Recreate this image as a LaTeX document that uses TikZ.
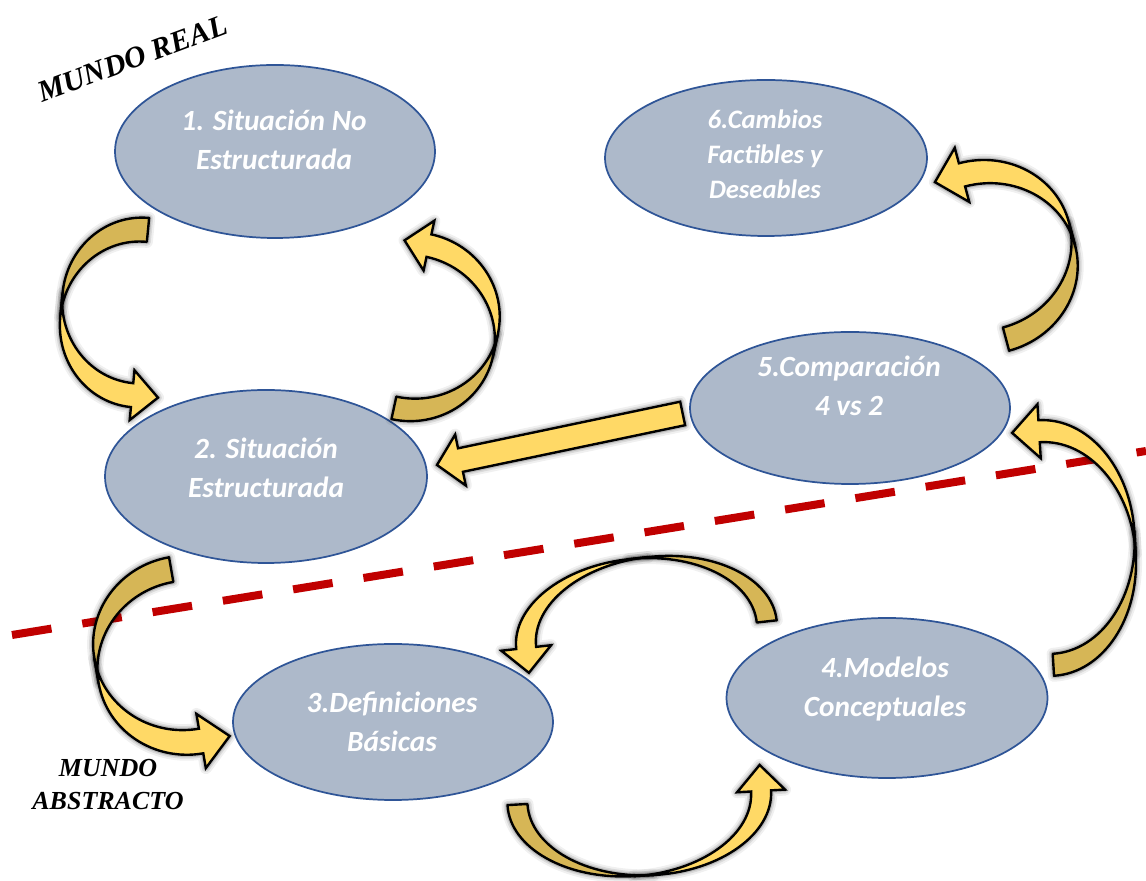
\documentclass[tikz,border=0pt]{standalone}
\usepackage{fontspec}
\usetikzlibrary{shapes.geometric}
\newfontfamily\labelfont{Carlito}
\newfontfamily\worldfont{Liberation Serif}
\definecolor{stagefill}{HTML}{ADB9CA}
\definecolor{stageline}{HTML}{2F5597}
\definecolor{arrowlight}{HTML}{FFD966}
\definecolor{arrowdark}{HTML}{D6B656}
\definecolor{borderred}{HTML}{C00000}
\tikzset{
  stage/.style={ellipse, draw=stageline, line width=1.3pt, fill=stagefill, inner sep=0pt},
  stagetext/.style={text=white, font=\labelfont\bfseries\itshape\fontsize{22}{29.5}\selectfont, align=center, anchor=base},
  worldtext/.style={font=\worldfont\bfseries\itshape, align=center, anchor=base},
  softshadow/.style={
    preaction={draw=black,opacity=.06,line width=9pt,line join=round},
    preaction={draw=black,opacity=.09,line width=6pt,line join=round},
    preaction={draw=black,opacity=.14,line width=3.6pt,line join=round}},
  arrowback/.style={softshadow, fill=arrowdark, draw=black, line width=1.8pt, line join=round},
  arrowfront/.style={softshadow, fill=arrowlight, draw=black, line width=1.8pt, line join=miter},
  divider/.style={draw=borderred, line width=6pt, dash pattern=on 30pt off 23.4pt},
}
% Twisted curved block arrow: #1,#2 centre, #3 rotation, #4,#5 ellipse radii,
% #6 band thickness, #7 head overhang, #8 head length
\newcommand\bentarrow[8]{%
  \begin{scope}[shift={(#1,#2)},rotate=#3]
    \path[arrowback] (0,#5) arc[start angle=90,end angle=180,x radius=#4,y radius=#5]
      -- (-#4,-#6) arc[start angle=180,end angle=90,x radius=#4,y radius=#5] -- cycle;
    \path[arrowfront] (-#4,0) arc[start angle=180,end angle=270,x radius=#4,y radius=#5]
      -- (0,{-#5+#7}) -- (#8,{-#5-#6/2}) -- (0,{-#5-#6-#7}) -- (0,{-#5-#6})
      arc[start angle=270,end angle=180,x radius=#4,y radius=#5] -- cycle;
  \end{scope}}
\begin{document}
\begin{tikzpicture}[x=0.75pt,y=0.75pt]
\useasboundingbox (0,0) rectangle (1146,881);
\fill[white] (0,0) rectangle (1146,881);

% boundary between the real and the abstract world
\coordinate (dl) at (12,246);
\coordinate (dr) at (1146,430);
\draw[divider] (dl) -- (dr);

% stages
\node[stage, minimum width=240pt, minimum height=129.75pt] (s1) at (275,729.5) {};
\node[stage, minimum width=241.5pt, minimum height=129.75pt] (s2) at (266,404.5) {};
\node[stage, minimum width=240pt, minimum height=117pt] (s3) at (393,159) {};
\node[stage, minimum width=240.75pt, minimum height=120pt] (s4) at (887,183) {};
\node[stage, minimum width=240pt, minimum height=114pt] (s5) at (850,473) {};
\node[stage, minimum width=241.5pt, minimum height=117pt] (s6) at (766,723) {};

% stage labels (anchored at the baseline of their last line)
\node[stagetext] (t1) at (274,711) {1. Situación No\\Estructurada};
\node[stagetext] (t2) at (266,383) {2. Situación\\Estructurada};
\node[stagetext] (t3) at (392,129) {3.Definiciones\\Básicas};
\node[stagetext] (t4) at (885,164) {4.Modelos\\Conceptuales};
\node[stagetext] (t5) at (849,465) {5.Comparación\\4 vs 2};
\node[stagetext, font=\labelfont\bfseries\itshape\fontsize{20}{26.6}\selectfont] (t6) at (765,682) {6.Cambios\\Factibles y\\Deseables};

% world labels
\node[worldtext, font=\worldfont\bfseries\itshape\fontsize{22.5}{26}\selectfont, rotate=20.5] (real) at (136,813) {MUNDO REAL};
\node[worldtext, font=\worldfont\bfseries\itshape\fontsize{19.5}{24.75}\selectfont] (abstract) at (108,71) {MUNDO\\ABSTRACTO};

% curved arrows between stages
\bentarrow{141.2}{580.4}{-5.5}{79}{83}{24}{13}{26}   % 1 -> 2
\bentarrow{409}{543}{167.8}{86}{83}{23}{14}{25}      % 2 -> 1
\bentarrow{184}{238}{9.9}{91}{87}{25}{15}{29}        % 2 -> 3
\bentarrow{656.4}{247.4}{-83.7}{77}{121}{20}{15}{25} % 4 -> 3
\bentarrow{629.3}{82.7}{93.2}{78}{122}{20}{14}{26}   % 3 -> 4
\bentarrow{1046.9}{322}{183.5}{89}{117}{22}{16}{27}  % 4 -> 5
\bentarrow{987.1}{612.4}{195}{91}{85}{24}{16}{28}    % 5 -> 6

% straight arrow 5 -> 2
\begin{scope}[shift={(437,416)},rotate=11.85]
  \path[arrowfront] (0,0) -- (24,26) -- (24,12) -- (251,12) -- (251,-12)
    -- (24,-12) -- (24,-26) -- cycle;
\end{scope}
\end{tikzpicture}
\end{document}
